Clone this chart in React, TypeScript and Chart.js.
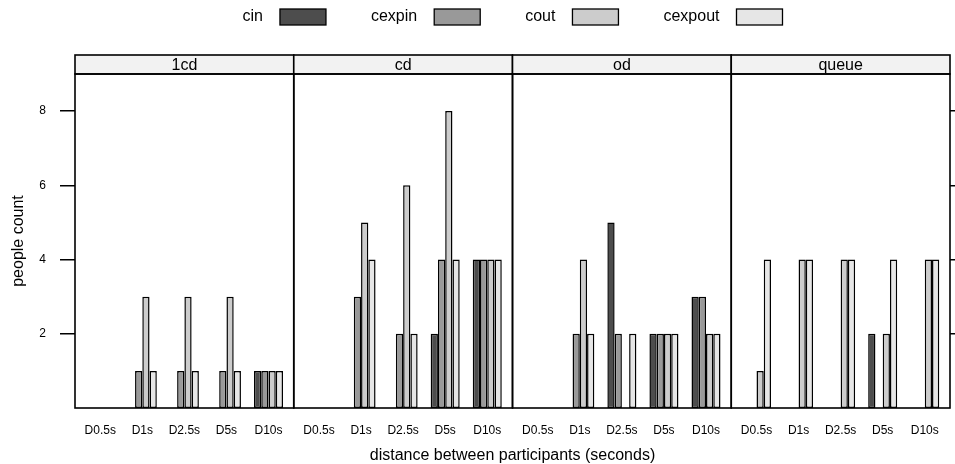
import React, { useEffect, useRef } from 'react';
import { Chart, registerables } from 'chart.js';

Chart.register(...registerables);

// ---- data ----
const panels = ['1cd', 'cd', 'od', 'queue'];
const distances = ['D0.5s', 'D1s', 'D2.5s', 'D5s', 'D10s'];
const seriesNames = ['cin', 'cexpin', 'cout', 'cexpout'];
const seriesColors = ['#4d4d4d', '#999999', '#cccccc', '#e6e6e6'];
// one row per panel (1cd, cd, od, queue), values for D0.5s..D10s
const cinValues = [
  [0, 0, 0, 0, 1],
  [0, 0, 0, 2, 4],
  [0, 0, 5, 2, 3],
  [0, 0, 0, 2, 0],
];
const cexpinValues = [
  [0, 1, 1, 1, 1],
  [0, 3, 2, 4, 4],
  [0, 2, 2, 2, 3],
  [0, 0, 0, 0, 0],
];
const coutValues = [
  [0, 3, 3, 3, 1],
  [0, 5, 6, 8, 4],
  [0, 4, 0, 2, 2],
  [1, 4, 4, 2, 4],
];
const cexpoutValues = [
  [0, 1, 1, 1, 1],
  [0, 4, 2, 4, 4],
  [0, 2, 2, 2, 2],
  [4, 4, 4, 4, 4],
];
const yTicks = [2, 4, 6, 8];
const yMin = 0;
const yMax = 9;
const xTitle = 'distance between participants (seconds)';
const yTitle = 'people count';

// ---- layout helpers (lattice-style panel spacing) ----
const PANEL_PAD = 0.6;
const PANEL_SPAN = distances.length - 1 + 2 * PANEL_PAD;
const catPos = (p: number, i: number) => p * PANEL_SPAN + PANEL_PAD + i;

const FONT = '"Liberation Sans", Arial, Helvetica, sans-serif';

const allSeries = [cinValues, cexpinValues, coutValues, cexpoutValues];

const xTickValues: number[] = [];
const xTickLabels: string[] = [];
panels.forEach((_, p) =>
  distances.forEach((d, i) => {
    xTickValues.push(catPos(p, i));
    xTickLabels.push(d);
  })
);

const latticePlugin = {
  id: 'lattice',
  afterDatasetsDraw(chart: any) {
    const ctx = chart.ctx as CanvasRenderingContext2D;
    const { top, bottom } = chart.chartArea;
    const xs = chart.scales.x;
    const stripH = 19;
    ctx.save();
    ctx.lineWidth = 1.6;
    ctx.strokeStyle = '#000';
    panels.forEach((name, p) => {
      const l = xs.getPixelForValue(p * PANEL_SPAN);
      const r = xs.getPixelForValue((p + 1) * PANEL_SPAN);
      ctx.fillStyle = '#f2f2f2';
      ctx.fillRect(l, top - stripH, r - l, stripH);
      ctx.strokeRect(l, top - stripH, r - l, stripH);
      ctx.strokeRect(l, top, r - l, bottom - top);
      ctx.fillStyle = '#000';
      ctx.font = `16px ${FONT}`;
      ctx.textAlign = 'center';
      ctx.textBaseline = 'middle';
      ctx.fillText(name, (l + r) / 2, top - stripH / 2 + 1);
    });

    // legend: text then box, centred over the panels
    ctx.font = `16px ${FONT}`;
    const boxW = 46;
    const boxH = 16;
    const textGap = 17;
    const itemGap = 45;
    const widths = seriesNames.map((n) => ctx.measureText(n).width);
    const total =
      widths.reduce((a, w) => a + w + textGap + boxW, 0) + itemGap * (seriesNames.length - 1);
    const cx = (xs.getPixelForValue(0) + xs.getPixelForValue(panels.length * PANEL_SPAN)) / 2;
    let x = cx - total / 2;
    const cy = 17;
    seriesNames.forEach((n, k) => {
      ctx.fillStyle = '#000';
      ctx.textAlign = 'left';
      ctx.textBaseline = 'middle';
      ctx.fillText(n, x, cy);
      x += widths[k] + textGap;
      ctx.fillStyle = seriesColors[k];
      ctx.fillRect(x, cy - boxH / 2, boxW, boxH);
      ctx.lineWidth = 1.3;
      ctx.strokeRect(x, cy - boxH / 2, boxW, boxH);
      x += boxW + itemGap;
    });
    ctx.restore();
  },
};

export default function App() {
  const canvasRef = useRef<HTMLCanvasElement | null>(null);

  useEffect(() => {
    if (!canvasRef.current) return;
    const datasets = seriesNames.map((name, k) => ({
      label: name,
      data: panels.flatMap((_, p) =>
        distances.map((_, i) => ({ x: catPos(p, i), y: allSeries[k][p][i] }))
      ),
      backgroundColor: seriesColors[k],
      borderColor: '#000',
      borderWidth: 1.5,
      borderSkipped: false as any,
      categoryPercentage: 0.69,
      barPercentage: 1,
    }));

    const setYTicks = (s: any) => {
      s.ticks = yTicks.map((v) => ({ value: v }));
    };

    const chart = new Chart(canvasRef.current, {
      type: 'bar',
      data: { datasets },
      options: {
        animation: false,
        responsive: true,
        maintainAspectRatio: false,
        layout: { padding: { top: 74, left: 0, right: 0, bottom: 0 } },
        plugins: {
          legend: { display: false },
          tooltip: { enabled: false },
        },
        scales: {
          x: {
            type: 'linear',
            offset: false,
            min: 0,
            max: panels.length * PANEL_SPAN,
            afterBuildTicks: (s: any) => {
              s.ticks = xTickValues.map((v) => ({ value: v }));
            },
            afterFit: (s: any) => {
              s.height = 56;
              s.paddingLeft = 0;
              s.paddingRight = 0;
            },
            grid: { display: false, offset: false },
            border: { display: false },
            ticks: {
              autoSkip: false,
              maxRotation: 0,
              minRotation: 0,
              padding: 7,
              color: '#000',
              font: { family: FONT, size: 12 },
              callback: (_v: any, i: number) => xTickLabels[i],
            },
            title: {
              display: true,
              text: xTitle,
              color: '#000',
              font: { family: FONT, size: 16, lineHeight: 1.1 },
              padding: { top: 0, bottom: 0 },
            },
          },
          y: {
            type: 'linear',
            position: 'left',
            min: yMin,
            max: yMax,
            afterBuildTicks: setYTicks,
            afterFit: (s: any) => {
              s.width = 75;
            },
            grid: {
              drawOnChartArea: false,
              drawTicks: true,
              tickLength: 15,
              color: '#000',
              lineWidth: 1.5,
            },
            border: { display: false },
            ticks: {
              padding: 14,
              color: '#000',
              font: { family: FONT, size: 12 },
            },
            title: {
              display: true,
              text: yTitle,
              color: '#000',
              font: { family: FONT, size: 16 },
              padding: { top: 9, bottom: 0 },
            },
          },
          y2: {
            type: 'linear',
            position: 'right',
            display: true,
            min: yMin,
            max: yMax,
            afterBuildTicks: setYTicks,
            afterFit: (s: any) => {
              s.width = 5;
            },
            grid: {
              drawOnChartArea: false,
              drawTicks: true,
              tickLength: 6,
              color: '#000',
              lineWidth: 1.5,
            },
            border: { display: false },
            ticks: { display: false },
          },
        },
      } as any,
      plugins: [latticePlugin],
    });
    return () => chart.destroy();
  }, []);

  return (
    <div
      style={{
        position: 'absolute',
        left: 0,
        top: 0,
        width: 955,
        height: 464,
        background: '#fff',
      }}
    >
      <canvas ref={canvasRef} />
    </div>
  );
}
